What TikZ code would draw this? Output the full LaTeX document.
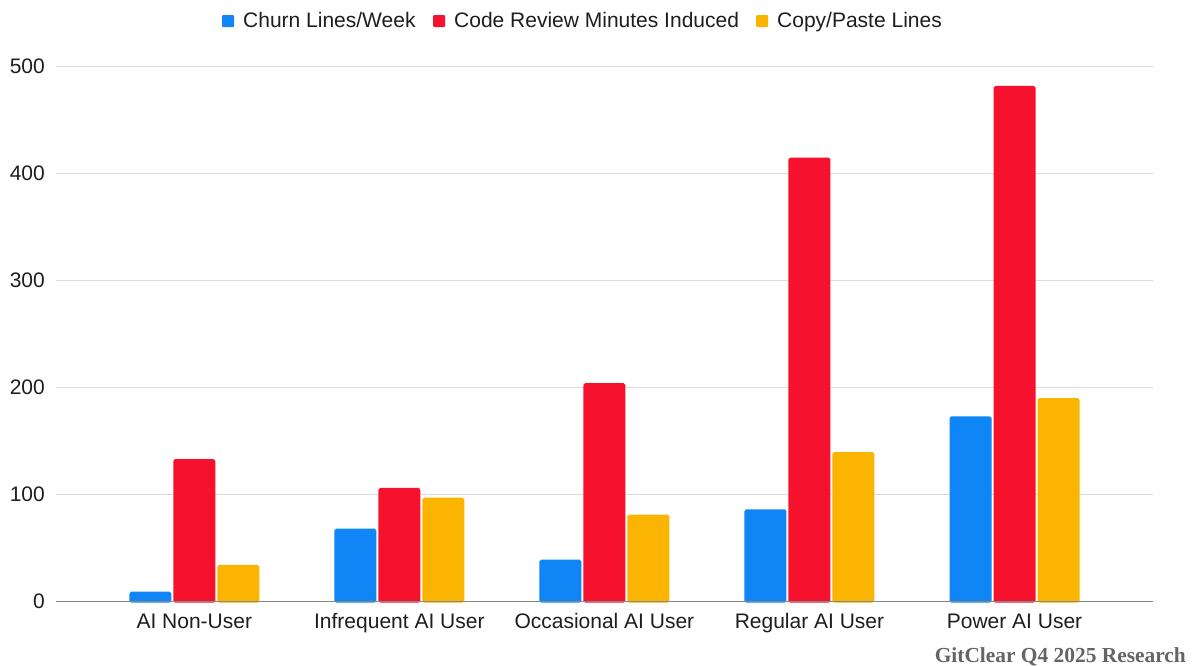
\documentclass[tikz,border=0pt]{standalone}
\usepackage{fontspec}
\setmainfont{Liberation Sans}
\newfontfamily\brandfont{Liberation Serif}
\definecolor{cblue}{RGB}{16,134,246}
\definecolor{cred}{RGB}{246,17,45}
\definecolor{cyellow}{RGB}{251,180,0}
\definecolor{gridgray}{RGB}{220,220,220}
\definecolor{axisgray}{RGB}{135,135,135}
\definecolor{brandgray}{RGB}{100,100,100}
\definecolor{textdark}{RGB}{30,30,30}
\newcommand\chartbar[3]{\fill[#3, rounded corners=1.8pt] ({#1-21},602.5) rectangle ({#1+21},{601.3-1.0692*#2});}
\begin{document}
\begin{tikzpicture}[x=1pt,y=-1pt,
  lbl/.style={font=\fontsize{21}{24}\selectfont, text=textdark, inner sep=0pt},
  gridline/.style={draw=gridgray, line width=1.3pt},
  axisline/.style={draw=axisgray, line width=1.4pt},
  legsq/.style={rounded corners=1pt},
  brand/.style={font=\brandfont\bfseries\fontsize{21.4}{24}\selectfont, text=brandgray, inner sep=0pt}]
\useasboundingbox (0,0) rectangle (1196,665);
\fill[white] (0,0) rectangle (1196,665);
% gridlines and tick labels
\foreach \v in {100,200,300,400,500}{
  \draw[gridline] (56,{601.3-1.0692*\v}) -- (1153,{601.3-1.0692*\v});
}
\foreach \v in {0,100,200,300,400,500}{
  \node[lbl, anchor=east] (tick\v) at (45,{601.3-1.0692*\v}) {\v};
}
% bars
\foreach \name/\b/\r/\yv [count=\i from 0] in {AI Non-User/9/133/34, Infrequent AI User/68/106/97, Occasional AI User/39/204/81, Regular AI User/86/415/139.5, Power AI User/173/482/190}{
  \pgfmathsetmacro\c{194.3+205.05*\i}
  \chartbar{\c-44}{\b}{cblue}
  \chartbar{\c}{\r}{cred}
  \chartbar{\c+44}{\yv}{cyellow}
  \node[lbl, anchor=base] (cat\i) at (\c,628) {\name};
}
\draw[axisline] (56,601.3) -- (1153,601.3);
% legend
\fill[cblue, legsq] (222,15) rectangle (234,27);
\node[lbl, anchor=base west] (leg1) at (243,27) {Churn Lines/Week};
\fill[cred, legsq] (433,15) rectangle (445,27);
\node[lbl, anchor=base west] (leg2) at (454,27) {Code Review Minutes Induced};
\fill[cyellow, legsq] (756,15) rectangle (768,27);
\node[lbl, anchor=base west] (leg3) at (777,27) {Copy/Paste Lines};
% brand
\node[brand, anchor=base east] (brandtxt) at (1186,662) {GitClear Q4 2025 Research};
\end{tikzpicture}
\end{document}
